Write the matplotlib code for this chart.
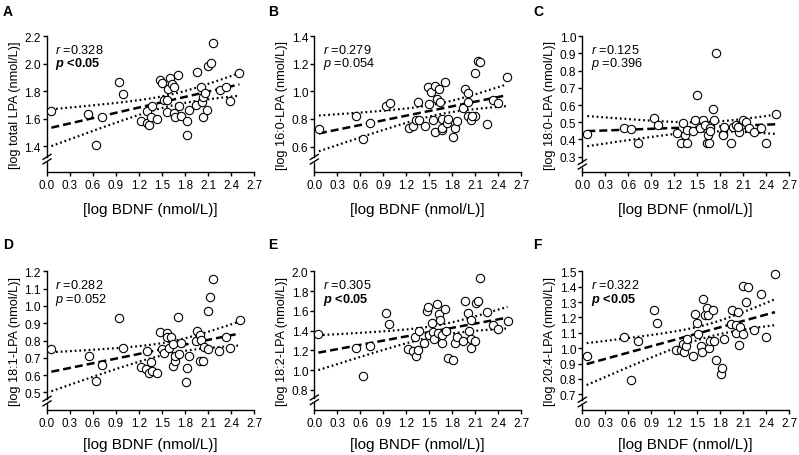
import numpy as np
import matplotlib
matplotlib.use('Agg')
import matplotlib.pyplot as plt

plt.rcParams['font.family'] = ['Liberation Sans', 'DejaVu Sans']
plt.rcParams['mathtext.fontset'] = 'custom'
plt.rcParams['mathtext.rm'] = 'Liberation Sans'
plt.rcParams['mathtext.it'] = 'Liberation Sans:italic'
plt.rcParams['mathtext.bf'] = 'Liberation Sans:bold'
plt.rcParams['mathtext.bfit'] = 'Liberation Sans:italic:bold'

# ---------------- data ----------------
a_x = [0.057, 0.54, 0.635, 0.72, 0.935, 0.99, 1.23, 1.30, 1.33, 1.30, 1.35, 1.37, 1.44, 1.48, 1.50,
       1.52, 1.56, 1.58, 1.57, 1.60, 1.635, 1.65, 1.66, 1.675, 1.71, 1.72, 1.75, 1.82, 1.826, 1.85,
       1.94, 1.96, 2.01, 2.02, 2.035, 2.04, 2.06, 2.09, 2.10, 2.135, 2.16, 2.25, 2.33, 2.39, 2.51]
a_y = [1.655, 1.635, 1.41, 1.613, 1.87, 1.78, 1.584, 1.567, 1.555, 1.66, 1.613, 1.69, 1.60, 1.88, 1.86,
       1.737, 1.737, 1.817, 1.652, 1.895, 1.853, 1.83, 1.642, 1.61, 1.92, 1.696, 1.618, 1.48, 1.584, 1.664,
       1.70, 1.94, 1.83, 1.725, 1.76, 1.61, 1.79, 1.667, 1.987, 2.004, 2.15, 1.81, 1.834, 1.732, 1.933]

b_x = [0.06, 0.54, 0.64, 0.726, 0.935, 0.99, 1.23, 1.29, 1.32, 1.35, 1.37, 1.44, 1.48, 1.50, 1.52,
       1.55, 1.57, 1.58, 1.60, 1.626, 1.64, 1.66, 1.67, 1.67, 1.71, 1.726, 1.75, 1.81, 1.83, 1.857,
       1.94, 1.965, 2.01, 2.0, 2.01, 2.04, 2.10, 2.10, 2.13, 2.165, 2.25, 2.33, 2.40, 2.51, 2.06]
b_y = [0.729, 0.82, 0.651, 0.771, 0.895, 0.917, 0.734, 0.746, 0.79, 0.92, 0.79, 0.749, 1.032, 0.905, 0.998,
       0.79, 0.702, 1.039, 0.944, 1.015, 0.924, 0.722, 0.80, 0.734, 1.071, 0.773, 0.80, 0.668, 0.734, 0.783,
       0.883, 1.017, 0.99, 0.822, 0.92, 0.795, 0.822, 1.13, 1.222, 1.21, 0.763, 0.937, 0.917, 1.105, 0.822]

c_x = [0.065, 0.55, 0.635, 0.73, 0.935, 0.99, 1.23, 1.31, 1.29, 1.34, 1.36, 1.37, 1.44, 1.47, 1.50,
       1.535, 1.58, 1.60, 1.62, 1.65, 1.635, 1.665, 1.67, 1.71, 1.72, 1.74, 1.83, 1.84, 1.85, 1.94,
       1.97, 2.0, 2.04, 2.065, 2.095, 2.13, 2.17, 2.24, 2.33, 2.40, 2.52, 2.03]
c_y = [0.433, 0.469, 0.462, 0.38, 0.523, 0.485, 0.437, 0.498, 0.38, 0.427, 0.38, 0.456, 0.447, 0.51, 0.656,
       0.466, 0.511, 0.485, 0.38, 0.38, 0.427, 0.466, 0.447, 0.574, 0.51, 0.90, 0.431, 0.424, 0.471, 0.38,
       0.473, 0.485, 0.443, 0.485, 0.513, 0.50, 0.466, 0.443, 0.469, 0.38, 0.546, 0.47]

d_x = [0.057, 0.543, 0.635, 0.72, 0.935, 0.987, 1.226, 1.31, 1.296, 1.326, 1.35, 1.374, 1.44, 1.478, 1.50,
       1.52, 1.565, 1.57, 1.595, 1.62, 1.64, 1.643, 1.67, 1.67, 1.704, 1.726, 1.748, 1.81, 1.826, 1.852,
       1.94, 1.957, 1.99, 2.01, 2.0, 2.04, 2.05, 2.096, 2.10, 2.13, 2.16, 2.243, 2.33, 2.39, 2.513]
d_y = [0.751, 0.713, 0.565, 0.659, 0.928, 0.759, 0.646, 0.738, 0.638, 0.611, 0.678, 0.623, 0.611, 0.847, 0.751,
       0.73, 0.841, 0.818, 0.755, 0.818, 0.78, 0.65, 0.684, 0.711, 0.933, 0.722, 0.786, 0.559, 0.64, 0.713,
       0.80, 0.853, 0.834, 0.805, 0.68, 0.684, 0.765, 0.749, 0.972, 1.052, 1.154, 0.742, 0.822, 0.755, 0.918]

e_x = [0.052, 0.54, 0.63, 0.72, 0.93, 0.98, 1.22, 1.29, 1.31, 1.33, 1.35, 1.365, 1.435, 1.465, 1.48,
       1.50, 1.53, 1.55, 1.565, 1.60, 1.617, 1.63, 1.64, 1.66, 1.67, 1.70, 1.72, 1.75, 1.81, 1.84,
       1.857, 1.94, 1.96, 2.00, 2.017, 2.04, 2.05, 2.04, 2.095, 2.11, 2.13, 2.16, 2.25, 2.33, 2.39, 2.52]
e_y = [1.362, 1.229, 0.94, 1.243, 1.577, 1.468, 1.219, 1.195, 1.332, 1.148, 1.202, 1.397, 1.277, 1.594, 1.635,
       1.356, 1.482, 1.39, 1.315, 1.669, 1.373, 1.567, 1.509, 1.27, 1.356, 1.618, 1.397, 1.124, 1.107, 1.277,
       1.332, 1.294, 1.697, 1.577, 1.397, 1.315, 1.509, 1.226, 1.294, 1.68, 1.697, 1.935, 1.584, 1.458, 1.417, 1.502]

f_x = [0.057, 0.54, 0.63, 0.72, 0.935, 0.98, 1.226, 1.287, 1.31, 1.33, 1.35, 1.37, 1.44, 1.474, 1.50,
       1.51, 1.543, 1.565, 1.58, 1.60, 1.63, 1.643, 1.657, 1.67, 1.71, 1.72, 1.743, 1.81, 1.826, 1.848,
       1.935, 1.957, 2.0, 2.0, 2.035, 2.043, 2.057, 2.09, 2.09, 2.13, 2.165, 2.24, 2.33, 2.39, 2.513]
f_y = [0.95, 1.07, 0.791, 1.048, 1.246, 1.163, 0.989, 0.989, 1.028, 0.978, 1.011, 1.061, 0.946, 1.222, 1.167,
       1.091, 1.011, 0.978, 1.32, 1.217, 1.261, 1.217, 1.004, 1.048, 1.25, 1.05, 0.92, 0.83, 0.87, 1.061,
       1.159, 1.25, 1.098, 1.152, 1.235, 1.022, 1.141, 1.091, 1.402, 1.30, 1.396, 1.12, 1.352, 1.072, 1.483]

panel_letters = ['A', 'B', 'C', 'D', 'E', 'F']
y_labels = ['[log total LPA (nmol/L)]', '[log 16:0-LPA (nmol/L)]', '[log 18:0-LPA (nmol/L)]',
            '[log 18:1-LPA (nmol/L)]', '[log 18:2-LPA (nmol/L)]', '[log 20:4-LPA (nmol/L)]']
x_labels = ['[log BDNF (nmol/L)]', '[log BDNF (nmol/L)]', '[log BDNF (nmol/L)]',
            '[log BDNF (nmol/L)]', '[log BNDF (nmol/L)]', '[log BNDF (nmol/L)]']
r_texts = ['0.328', '0.279', '0.125', '0.282', '0.305', '0.322']
p_texts = ['<0.05', '=0.054', '=0.396', '=0.052', '<0.05', '<0.05']
p_signif = [True, False, False, False, True, True]
y_ticks = [[1.4, 1.6, 1.8, 2.0, 2.2],
           [0.6, 0.8, 1.0, 1.2, 1.4],
           [0.3, 0.4, 0.5, 0.6, 0.7, 0.8, 0.9, 1.0],
           [0.5, 0.6, 0.7, 0.8, 0.9, 1.0, 1.1, 1.2],
           [0.8, 1.0, 1.2, 1.4, 1.6, 1.8, 2.0],
           [0.7, 0.8, 0.9, 1.0, 1.1, 1.2, 1.3, 1.4, 1.5]]
y_bottom = [1.213, 0.415, 0.21, 0.40, 0.60, 0.60]
x_ticks = [0.0, 0.3, 0.6, 0.9, 1.2, 1.5, 1.8, 2.1, 2.4, 2.7]

xs = [a_x, b_x, c_x, d_x, e_x, f_x]
ys = [a_y, b_y, c_y, d_y, e_y, f_y]

# ---------------- figure ----------------
W, H = 799, 456
fig = plt.figure(figsize=(W / 100, H / 100), dpi=100)

lefts = [47, 314.3, 582.3]
ax_w = 207
tops = [37.3, 272.3]
bottoms = [173, 410.7]
xlabel_off = [37, 34]

T_CRIT = 2.017

for i in range(6):
    row, col = divmod(i, 3)
    l = lefts[col]
    t = tops[row]
    b = bottoms[row]
    ax = fig.add_axes([l / W, 1 - b / H, ax_w / W, (b - t) / H])
    x = np.array(xs[i])
    y = np.array(ys[i])
    ytop = y_ticks[i][-1]
    ylo = y_bottom[i]

    # regression + 95% CI
    slope, inter = np.polyfit(x, y, 1)
    n = len(x)
    resid = y - (slope * x + inter)
    s = np.sqrt(np.sum(resid ** 2) / (n - 2))
    xm = x.mean()
    sxx = np.sum((x - xm) ** 2)
    xf = np.linspace(x.min(), x.max(), 100)
    yf = slope * xf + inter
    se = s * np.sqrt(1 / n + (xf - xm) ** 2 / sxx)
    ax.plot(xf, yf + T_CRIT * se, color='black', lw=1.6, linestyle=(0, (0.8, 1.3)), zorder=2)
    ax.plot(xf, yf - T_CRIT * se, color='black', lw=1.6, linestyle=(0, (0.8, 1.3)), zorder=2)
    ax.plot(xf, yf, color='black', lw=1.8, linestyle=(0, (3.2, 1.6)), zorder=2)

    ax.scatter(x, y, s=36, facecolor='white', edgecolor='black', linewidth=0.8, zorder=3, clip_on=False)

    ax.set_xlim(0, 2.7)
    ax.set_ylim(ylo, ytop)
    ax.set_xticks(x_ticks)
    ax.set_xticklabels([f'{v:.1f}' for v in x_ticks])
    ax.set_yticks(y_ticks[i])
    ax.set_yticklabels([f'{v:.1f}' for v in y_ticks[i]])
    ax.tick_params(direction='out', length=3, width=1, labelsize=8.6, pad=1.5, colors='black')
    ax.tick_params(axis='x', labelsize=8.4, pad=2)
    for sp in ['top', 'right']:
        ax.spines[sp].set_visible(False)
    for sp in ['left', 'bottom']:
        ax.spines[sp].set_linewidth(1)

    # axis break on y
    hpx = b - t
    yb = (y_ticks[i][0] + ylo) / 2
    rng = ytop - ylo
    g = 2.3 / hpx * rng
    ax.spines['left'].set_bounds(yb + g, ytop)
    ax.plot([0, 0], [ylo, yb - g], color='black', lw=1, clip_on=False, solid_capstyle='butt')
    fb = (yb - ylo) / rng
    dx = 4 / ax_w
    dy = 2.5 / hpx
    for off in (-2.3 / hpx, 2.3 / hpx):
        ax.plot([-dx, dx], [fb + off - dy, fb + off + dy], transform=ax.transAxes,
                color='black', lw=1, clip_on=False)

    ax.set_ylabel(y_labels[i], fontsize=9.2)
    ax.yaxis.set_label_coords(-0.125, 0.5)
    ax.set_xlabel(x_labels[i], fontsize=11)
    ax.xaxis.label.set_va('center')
    ax.xaxis.set_label_coords(0.5, -xlabel_off[row] / hpx)

    ax.text(0.04, 0.905, r'$\mathit{r}$ =' + r_texts[i], transform=ax.transAxes,
            fontsize=9.2, va='center', ha='left')
    if p_signif[i]:
        ax.text(0.04, 0.80, r'$\mathbfit{p}$ ' + p_texts[i], transform=ax.transAxes,
                fontsize=9.2, va='center', ha='left', fontweight='bold')
    else:
        ax.text(0.04, 0.80, r'$\mathit{p}$ ' + p_texts[i], transform=ax.transAxes,
                fontsize=9.2, va='center', ha='left')

    lx = [3, 268, 533][col]
    ly = [5, 238][row]
    fig.text(lx / W, 1 - ly / H, panel_letters[i], fontsize=10, fontweight='bold', va='top', ha='left')

fig.savefig('out.png', dpi=100)
